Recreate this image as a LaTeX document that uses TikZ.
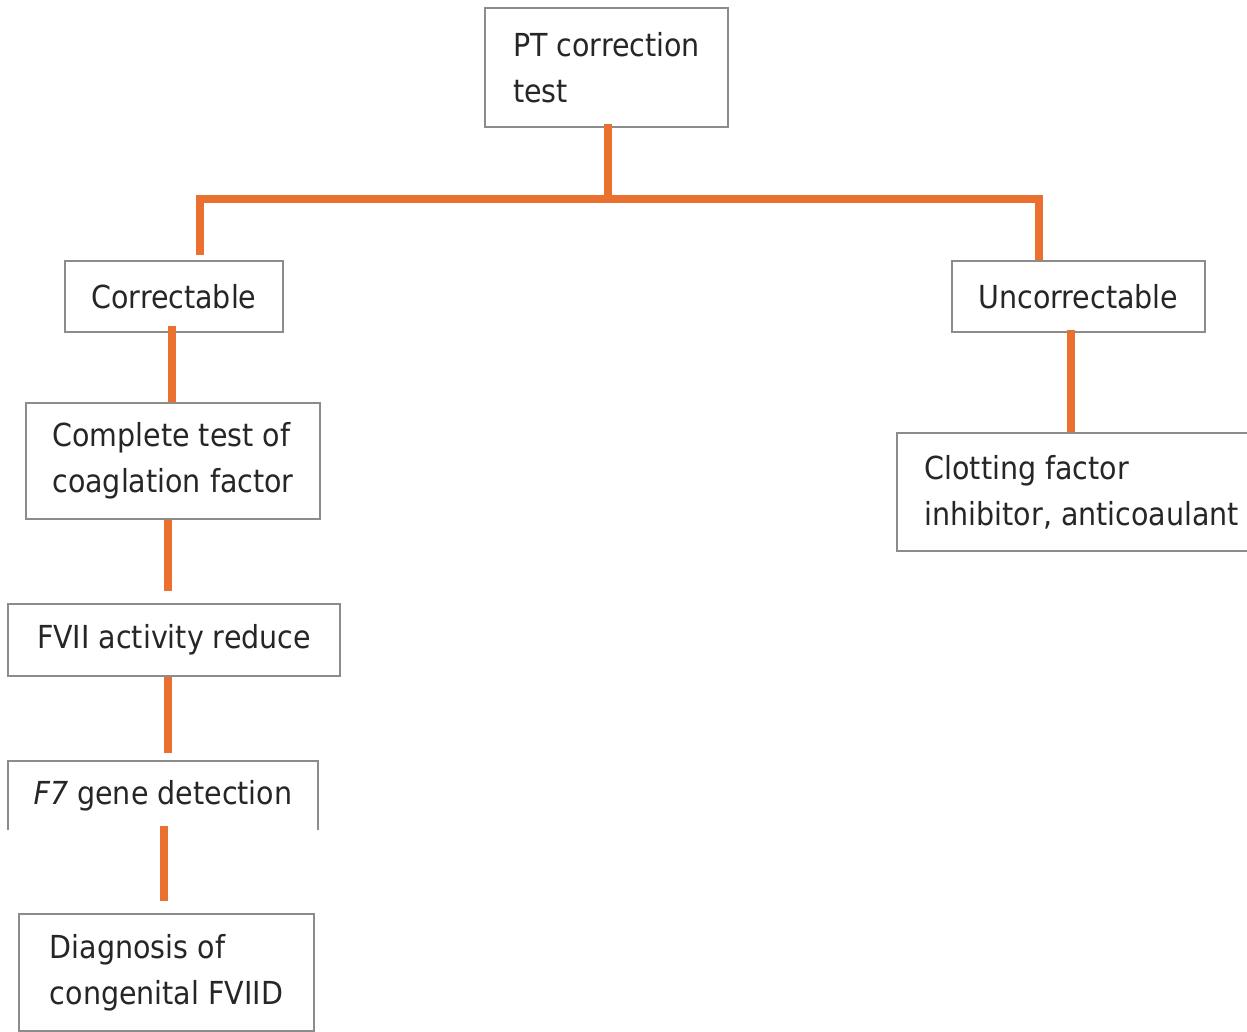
\documentclass[tikz,border=0pt]{standalone}
\usepackage{fontspec}
\setmainfont{DejaVu Sans Condensed}
\definecolor{conncol}{RGB}{234,112,48}
\definecolor{boxcol}{RGB}{140,140,140}
\begin{document}
\begin{tikzpicture}[x=1pt,y=-1pt,
  every node/.style={font=\fontsize{31.7}{46}\selectfont, text=black!85},
  box/.style={draw=boxcol, line width=1.8pt, inner sep=0pt, align=left},
  nobox/.style={inner sep=0pt, align=left},
  conn/.style={draw=conncol, line width=8pt}]
\useasboundingbox (0,0) rectangle (1247,1031);
\clip (0,0) rectangle (1247,1031);
\fill[white] (0,0) rectangle (1247,1031);
% nodes
\node[box, minimum width=243pt, minimum height=119pt] (pt) at (606.5,67.5) {PT correction\\test};
\node[box, minimum width=218pt, minimum height=71pt] (corr) at (174,296.5) {Correctable};
\node[box, minimum width=253pt, minimum height=71pt] (uncorr) at (1078.5,296.5) {Uncorrectable};
\node[box, minimum width=294pt, minimum height=116pt] (comp) at (173,461) {Complete test of\\coaglation factor};
\node[box, anchor=west, minimum width=370pt, minimum height=118pt] (clot) at (896,492) {Clotting factor\\inhibitor, anticoaulant};
\node[box, minimum width=332pt, minimum height=72pt] (fvii) at (174,640) {FVII activity reduce};
\node[nobox, minimum width=310pt, minimum height=69pt] (f7) at (163,795.5) {\textit{F7} gene detection};
\draw[boxcol, line width=1.8pt] (f7.south west) -- (f7.north west) -- (f7.north east) -- (f7.south east);
\node[box, minimum width=295pt, minimum height=117pt] (diag) at (166.5,972.5) {Diagnosis of\\congenital FVIID};
% connectors
\coordinate (hub) at (608,199);
\coordinate (hl) at (199.5,199);
\coordinate (hr) at (1039,199);
\draw[conn] ([yshift=4pt]pt.south -| hub) -- (hub);
\draw[conn] ([xshift=-4pt]hl) -- ([xshift=4pt]hr);
\draw[conn] (hl) -- ([yshift=5pt]corr.north -| hl);
\draw[conn] (hr) -- (uncorr.north -| hr);
\draw[conn] ([yshift=7pt]corr.south -| 172,0) -- (comp.north -| 172,0);
\draw[conn] (comp.south -| 168,0) -- ([yshift=12pt]fvii.north -| 168,0);
\draw[conn] (fvii.south -| 168,0) -- ([yshift=8pt]f7.north -| 168,0);
\draw[conn] ([yshift=4pt]f7.south -| 164,0) -- ([yshift=12pt]diag.north -| 164,0);
\draw[conn] ([yshift=3pt]uncorr.south -| 1071,0) -- (clot.north -| 1071,0);
\end{tikzpicture}
\end{document}
